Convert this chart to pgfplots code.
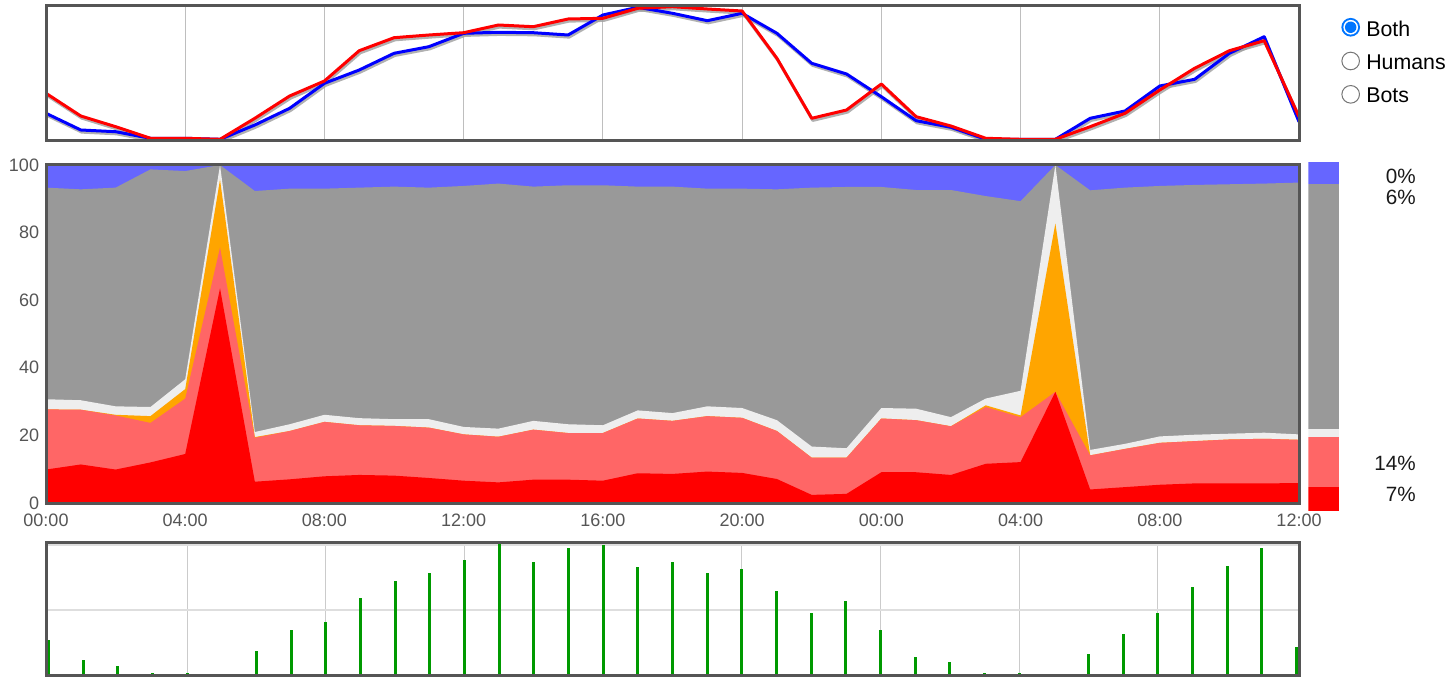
\documentclass[border=0pt]{standalone}
\usepackage{pgfplots}
\usepackage{pgfplotstable}
\pgfplotsset{compat=1.18}
\usepackage{fontspec}
\setmainfont{Liberation Sans}

\definecolor{framegrey}{HTML}{555555}
\definecolor{gridgrey}{HTML}{BEBEBE}
\definecolor{ticktext}{HTML}{555555}
\definecolor{areablue}{HTML}{6666FF}
\definecolor{areagrey}{HTML}{999999}
\definecolor{arealight}{HTML}{EEEEEE}
\definecolor{areaorange}{HTML}{FFA500}
\definecolor{areapink}{HTML}{FF6666}
\definecolor{areared}{HTML}{FF0000}
\definecolor{barsgreen}{HTML}{009900}
\definecolor{radioblue}{HTML}{0075FF}
\definecolor{radiogrey}{HTML}{767676}

% top panel: hourly traffic, humans (blue) and bots (red), arbitrary scale
\pgfplotstableread{
h blue red
0 27.7 47.7
1 11 25
2 9.3 14.3
3 2.7 2.7
4 2.7 2.7
5 1.7 1.7
6 16 22.7
7 32.7 45
8 57.7 60
9 71 90.3
10 87.7 103.3
11 94.3 106
12 107.7 108.3
13 108.7 116
14 108.3 114.3
15 106 122
16 126 122.7
17 133.7 132.7
18 127.7 134.3
19 120.3 132
20 127.7 130
21 107.7 82.7
22 77.7 22.7
23 67 31
24 44.3 57
25 20.3 24.3
26 13.7 15
27 1.7 2.7
28 1.7 1.7
29 1.7 1.7
30 22.7 14.3
31 30 27.7
32 55 51
33 61.7 72.7
34 87.7 90.3
35 104.3 100.3
36 19.3 24.3
}\traffic

% middle panel: cumulative shares in percent (top edge of each layer)
\pgfplotstableread{
h red pink orange light grey
0 9.9 27.7 27.7 30.7 93.3
1 11.4 27.6 27.6 30.4 92.8
2 9.9 25.9 26.1 28.6 93.3
3 12.0 23.7 25.7 28.4 98.7
4 14.5 30.9 33.7 36.6 98.2
5 63.5 75.6 95.7 100 100
6 6.3 19.3 19.5 21.0 92.3
7 7.0 21.3 21.3 23.3 93.0
8 7.9 24.0 24.0 26.1 93.0
9 8.3 23.0 23.0 25.1 93.3
10 8.1 22.8 22.8 24.8 93.6
11 7.4 22.3 22.3 24.8 93.3
12 6.6 20.3 20.3 22.5 93.8
13 6.1 19.6 19.6 22.0 94.5
14 6.9 21.7 21.7 24.3 93.6
15 6.9 20.7 20.7 23.3 94.0
16 6.6 20.7 20.7 23.0 94.0
17 8.8 25.0 25.0 27.4 93.6
18 8.6 24.3 24.3 26.6 93.6
19 9.3 25.7 25.7 28.6 93.0
20 8.9 25.2 25.2 28.1 93.0
21 7.1 21.3 21.3 24.5 92.8
22 2.4 13.4 13.4 16.7 93.3
23 2.7 13.4 13.4 16.2 93.5
24 9.1 25.0 25.0 28.1 93.5
25 9.1 24.5 24.5 27.9 92.6
26 8.3 22.7 22.7 25.4 92.6
27 11.6 28.4 28.9 30.9 90.8
28 12.1 25.4 25.9 33.2 89.3
29 32.9 32.9 82.7 100 100
30 4.0 14.1 14.1 15.7 92.5
31 4.7 16.0 16.0 17.5 93.3
32 5.4 17.8 17.8 19.7 93.8
33 5.8 18.3 18.3 20.2 94.1
34 5.8 18.8 18.8 20.5 94.3
35 5.8 19.0 19.0 20.8 94.5
36 5.9 18.7 18.7 20.3 94.8
}\shares

% bottom panel: hits per hour
\pgfplotstableread{
h hits
0 35
1 15
2 9.3
3 2.5
4 2.5
6 24
7 45
8 53
9 77.3
10 94.3
11 102
12 115
13 131.7
14 113
15 126.7
16 130
17 107.7
18 113
19 102
20 105.7
21 84
22 62
23 74
24 45
25 18.3
26 12.7
27 2.5
28 2.5
30 21
31 40.7
32 62
33 88.3
34 109
35 127
36 28.3
}\hits

\tikzset{
  frame/.style={draw=framegrey, line width=2.25pt},
  shadow/.style={black!38, opacity=0.8, line width=2.25pt, line join=round,
    xshift=0.75pt, yshift=-1.6pt},
}
\pgfplotsset{
  panel/.style={scale only axis, anchor=south west, width=939.75pt,
    xmin=0, xmax=36, axis line style={draw=none}, major tick length=0pt},
}

\begin{document}
\begin{tikzpicture}
\useasboundingbox (0,0) rectangle (1088.25pt,509.25pt);

% top panel
\begin{axis}[panel, name=top, at={(34.5pt,403.5pt)}, height=101.25pt,
  ymin=0, ymax=135, xtick={4,8,...,32}, xticklabels={}, ytick=\empty,
  xmajorgrids, major grid style={draw=gridgrey, line width=0.75pt}]
\addplot[shadow] table[x=h,y=blue] {\traffic};
\addplot[shadow] table[x=h,y=red] {\traffic};
\addplot[blue, line width=2.25pt, line join=round] table[x=h,y=blue] {\traffic};
\addplot[red, line width=2.25pt, line join=round] table[x=h,y=red] {\traffic};
\end{axis}
\draw[frame] (top.south west) rectangle (top.north east);

% middle panel
\begin{axis}[panel, name=mid, at={(34.5pt,132pt)}, height=253.5pt,
  ymin=0, ymax=100, xtick={0,4,...,36},
  xticklabels={00:00,04:00,08:00,12:00,16:00,20:00,00:00,04:00,08:00,12:00},
  ytick={0,20,...,100},
  tick label style={font=\fontsize{13.5}{16}\selectfont, text=ticktext},
  xticklabel style={yshift=-5pt}, yticklabel style={xshift=-1.7pt},
  /pgf/number format/assume math mode=true]
\addplot[fill=areablue, draw=none] coordinates {(0,100) (36,100)} \closedcycle;
\addplot[fill=areagrey, draw=none] table[x=h,y=grey] {\shares} \closedcycle;
\addplot[fill=arealight, draw=none] table[x=h,y=light] {\shares} \closedcycle;
\addplot[fill=areaorange, draw=none] table[x=h,y=orange] {\shares} \closedcycle;
\addplot[fill=areapink, draw=none] table[x=h,y=pink] {\shares} \closedcycle;
\addplot[fill=areared, draw=none] table[x=h,y=red] {\shares} \closedcycle;
\end{axis}
\draw[frame] (mid.south west) rectangle (mid.north east);

% bottom panel
\begin{axis}[panel, name=bot, at={(34.5pt,3pt)}, height=99.75pt,
  xmin=-0.07, xmax=36.07,
  ymin=0, ymax=133, xtick={4,8,...,32}, xticklabels={},
  ytick={65,130}, yticklabels={}, xmajorgrids, ymajorgrids,
  major x grid style={draw=gridgrey!80, line width=0.75pt},
  major y grid style={draw=black!13, line width=1.5pt}]
\addplot[ycomb, barsgreen, line width=2.25pt] table[x=h,y=hits] {\hits};
\end{axis}
\draw[frame] (bot.south west) rectangle (bot.north east);

% summary bar on the right (heights in px)
\begin{axis}[at={(981.2pt,126.2pt)}, anchor=south west, scale only axis,
  width=23pt, height=261.3pt, hide axis, xmin=-0.5, xmax=0.5,
  ymin=0, ymax=348.4, ybar stacked, bar width=23pt]
\addplot[fill=areared, draw=none] coordinates {(0,23.4)};
\addplot[fill=areapink, draw=none] coordinates {(0,50)};
\addplot[fill=arealight, draw=none] coordinates {(0,8)};
\addplot[fill=areagrey, draw=none] coordinates {(0,245)};
\addplot[fill=areablue, draw=none] coordinates {(0,22)};
\end{axis}

\begin{scope}[font=\fontsize{15.5}{18}\selectfont, text=black!90]
\node[anchor=base east, inner sep=0pt] at (1062pt,371.8pt) {0\%};
\node[anchor=base east, inner sep=0pt] at (1062pt,355.5pt) {6\%};
\node[anchor=base east, inner sep=0pt] at (1062pt,156.2pt) {14\%};
\node[anchor=base east, inner sep=0pt] at (1062pt,133pt) {7\%};
\end{scope}

% radio buttons
\fill[radioblue] (1013pt,488.8pt) circle (7pt);
\fill[white] (1013pt,488.8pt) circle (5.5pt);
\fill[radioblue] (1013pt,488.8pt) circle (4.3pt);
\draw[radiogrey, fill=white, line width=0.75pt] (1013pt,463.5pt) circle (6.6pt);
\draw[radiogrey, fill=white, line width=0.75pt] (1013pt,438.5pt) circle (6.6pt);
\begin{scope}[font=\fontsize{16}{19}\selectfont]
\node[anchor=base west, inner sep=0pt] at (1024.5pt,481.7pt) {Both};
\node[anchor=base west, inner sep=0pt] at (1024.5pt,456.75pt) {Humans};
\node[anchor=base west, inner sep=0pt] at (1024.5pt,432.2pt) {Bots};
\end{scope}
\end{tikzpicture}
\end{document}
